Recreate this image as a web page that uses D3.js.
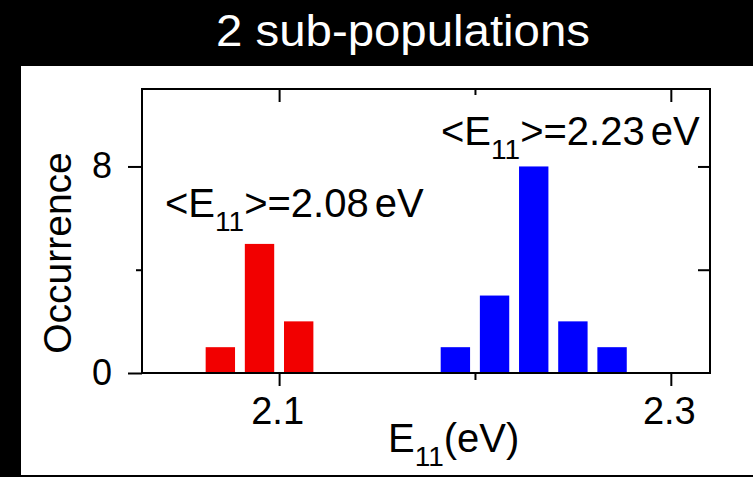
<!DOCTYPE html>
<html>
<head>
<meta charset="utf-8">
<script src="https://cdn.jsdelivr.net/npm/d3@7"></script>
<style>
  html, body { margin: 0; padding: 0; background: #000; }
  svg { display: block; }
  text { font-family: "Liberation Sans", Arial, Helvetica, sans-serif; }
</style>
</head>
<body>
<svg id="chart" width="753" height="477"></svg>
<script>
// Histogram bins: centre energy (eV) and count for each sub-population
const redEnergies = [2.07, 2.09, 2.11];
const redCounts = [1, 5, 2];
const blueEnergies = [2.19, 2.21, 2.23, 2.25, 2.27];
const blueCounts = [1, 3, 8, 2, 1];

// Axis ticks
const xMajorTicks = [2.1, 2.3];
const xMinorTicks = [2.2];
const yMajorTicks = [0, 8];
const yMinorTicks = [4];

// Mean energies written next to each group
const redMean = 2.08;
const blueMean = 2.23;

const binWidth = 0.015;

const svg = d3.select("#chart");

// black backdrop, white panel
svg.append("rect").attr("x", 0).attr("y", 0).attr("width", 753).attr("height", 477).attr("fill", "#000");
svg.append("rect").attr("x", 21).attr("y", 66).attr("width", 732).attr("height", 409).attr("fill", "#fff");

// title
svg.append("text")
  .attr("x", 403).attr("y", 46)
  .attr("text-anchor", "middle")
  .attr("fill", "#fff")
  .attr("font-size", 44)
  .attr("textLength", 374)
  .attr("lengthAdjust", "spacingAndGlyphs")
  .text("2 sub-populations");

const plot = { left: 142, right: 710, top: 89, bottom: 373 };

const x = d3.scaleLinear().domain([2.03, 2.32]).range([plot.left, plot.right]);
const y = d3.scaleLinear().domain([0, 11]).range([plot.bottom, plot.top]);

// bars
function drawBars(energies, counts, color) {
  svg.append("g").selectAll("rect")
    .data(energies.map((e, i) => ({ e, c: counts[i] })))
    .join("rect")
    .attr("x", d => x(d.e - binWidth / 2))
    .attr("width", d => x(d.e + binWidth / 2) - x(d.e - binWidth / 2))
    .attr("y", d => y(d.c))
    .attr("height", d => y(0) - y(d.c))
    .attr("fill", color);
}
drawBars(redEnergies, redCounts, "#f20000");
drawBars(blueEnergies, blueCounts, "#0000ff");

// axes
function styleAxis(g) {
  g.select(".domain").remove();
  g.selectAll(".tick line").attr("stroke", "#000").attr("stroke-width", 2);
  g.selectAll(".tick text").attr("fill", "#000").attr("font-family", "Liberation Sans, Arial, sans-serif");
}

// bottom: outward ticks with labels
svg.append("g").attr("transform", `translate(0,${plot.bottom})`)
  .call(d3.axisBottom(x).tickValues(xMajorTicks).tickSize(13).tickPadding(11).tickFormat(d3.format(".1f")))
  .call(styleAxis)
  .call(g => g.selectAll(".tick text").attr("font-size", 38).attr("dx", -2));
svg.append("g").attr("transform", `translate(0,${plot.bottom})`)
  .call(d3.axisBottom(x).tickValues(xMinorTicks).tickSize(7).tickFormat(""))
  .call(styleAxis);

// top: inward ticks
svg.append("g").attr("transform", `translate(0,${plot.top})`)
  .call(d3.axisTop(x).tickValues(xMajorTicks).tickSize(-13).tickFormat(""))
  .call(styleAxis);
svg.append("g").attr("transform", `translate(0,${plot.top})`)
  .call(d3.axisTop(x).tickValues(xMinorTicks).tickSize(-6).tickFormat(""))
  .call(styleAxis);

// left: outward ticks with labels
svg.append("g").attr("transform", `translate(${plot.left},0)`)
  .call(d3.axisLeft(y).tickValues(yMajorTicks).tickSize(14).tickPadding(16).tickFormat(d3.format("d")))
  .call(styleAxis)
  .call(g => g.selectAll(".tick text").attr("font-size", 36));
svg.append("g").attr("transform", `translate(${plot.left},0)`)
  .call(d3.axisLeft(y).tickValues(yMinorTicks).tickSize(6).tickFormat(""))
  .call(styleAxis);

// right: inward ticks
svg.append("g").attr("transform", `translate(${plot.right},0)`)
  .call(d3.axisRight(y).tickValues(yMajorTicks.concat(yMinorTicks).filter(v => v > 0)).tickSize(-12).tickFormat(""))
  .call(styleAxis);

// frame
svg.append("rect")
  .attr("x", plot.left).attr("y", plot.top)
  .attr("width", plot.right - plot.left).attr("height", plot.bottom - plot.top)
  .attr("fill", "none").attr("stroke", "#000").attr("stroke-width", 2);

// label with subscripted E11
function subLabel(xPos, yPos, before, after, size) {
  const t = svg.append("text").attr("x", xPos).attr("y", yPos)
    .attr("font-size", size).attr("fill", "#000");
  t.append("tspan").text(before + "E");
  t.append("tspan").attr("font-size", size * 0.7).attr("dy", size * 0.36).text("11");
  t.append("tspan").attr("dy", -size * 0.36).text(after);
  return t;
}

function meanLabel(xPos, yPos, mean) {
  const t = subLabel(xPos, yPos, "<", ">=" + mean.toFixed(2), 40);
  t.append("tspan").attr("dx", 6).text("eV");
}
meanLabel(165, 217, redMean);
meanLabel(441, 145, blueMean);

// axis titles
subLabel(388, 452, "", "(eV)", 40);

svg.append("text")
  .attr("transform", "translate(71,253) rotate(-90)")
  .attr("text-anchor", "middle")
  .attr("font-size", 39)
  .attr("fill", "#000")
  .text("Occurrence");
</script>
</body>
</html>
